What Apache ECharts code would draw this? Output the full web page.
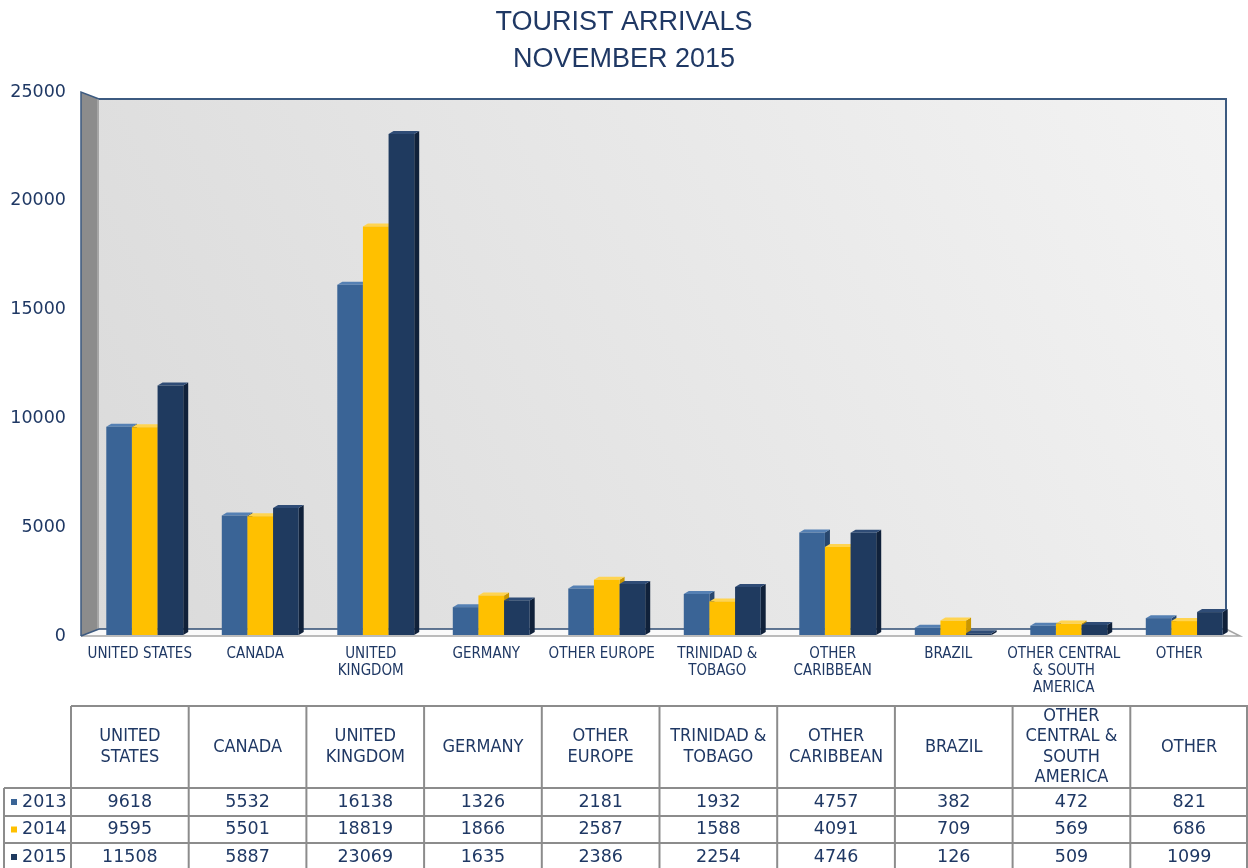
<!DOCTYPE html>
<html>
<head>
<meta charset="utf-8">
<script src="https://cdn.jsdelivr.net/npm/echarts@6/dist/echarts.min.js"></script>
<style>
  html, body { margin: 0; padding: 0; background: #fff; }
  #main { width: 1248px; height: 868px; }
</style>
</head>
<body>
<div id="main"></div>
<script>
// categories / labels
var categories = ['UNITED STATES', 'CANADA', 'UNITED KINGDOM', 'GERMANY', 'OTHER EUROPE',
  'TRINIDAD & TOBAGO', 'OTHER CARIBBEAN', 'BRAZIL', 'OTHER CENTRAL & SOUTH AMERICA', 'OTHER'];
var axisLabels = ['UNITED STATES', 'CANADA', 'UNITED\nKINGDOM', 'GERMANY', 'OTHER EUROPE',
  'TRINIDAD &\nTOBAGO', 'OTHER\nCARIBBEAN', 'BRAZIL', 'OTHER CENTRAL\n& SOUTH\nAMERICA', 'OTHER'];
var tableHeads = ['UNITED\nSTATES', 'CANADA', 'UNITED\nKINGDOM', 'GERMANY', 'OTHER\nEUROPE',
  'TRINIDAD &\nTOBAGO', 'OTHER\nCARIBBEAN', 'BRAZIL', 'OTHER\nCENTRAL &\nSOUTH\nAMERICA', 'OTHER'];
var years = ['2013', '2014', '2015'];

// series values
var arrivals2013 = [9618, 5532, 16138, 1326, 2181, 1932, 4757, 382, 472, 821];
var arrivals2014 = [9595, 5501, 18819, 1866, 2587, 1588, 4091, 709, 569, 686];
var arrivals2015 = [11508, 5887, 23069, 1635, 2386, 2254, 4746, 126, 509, 1099];

// y axis ticks
var yMin = 0, yMax = 25000, yStep = 5000;

var navy = '#1f3864';
var faceColors = [
  { front: '#3a6496', side: '#28476e', top: '#5580b3' },
  { front: '#ffc000', side: '#c99600', top: '#ffd451' },
  { front: '#1f3a5f', side: '#10213a', top: '#2f4c76' }
];

// layout of the plot (front plane)
var L = 82, T = 92, B = 636, R = 1237;
var DX = 17, DY = 7;
var narrow = '"Liberation Sans Narrow", "Arial Narrow", "DejaVu Sans Condensed", sans-serif';

var chart = echarts.init(document.getElementById('main'));

function renderBar(params, api) {
  var s = params.seriesIndex;
  var cat = api.value(0);
  var top = api.coord([cat, api.value(1)]);
  var base = api.coord([cat, 0]);
  var band = api.size([1, 0])[0];
  var bw = band * 0.222;
  var x = top[0] + 5 + (s - 1.5) * bw;
  var y = top[1], y0 = base[1] - 1;
  var dx = 5, dy = 3;
  var c = faceColors[s];
  return {
    type: 'group',
    children: [
      { type: 'polygon', shape: { points: [[x + bw, y], [x + bw + dx, y - dy], [x + bw + dx, y0 - dy], [x + bw, y0]] },
        style: { fill: c.side } },
      { type: 'polygon', shape: { points: [[x, y], [x + dx, y - dy], [x + bw + dx, y - dy], [x + bw, y]] },
        style: { fill: c.top } },
      { type: 'rect', shape: { x: x, y: y, width: bw, height: y0 - y }, style: { fill: c.front } }
    ]
  };
}

function makeSeries(name, values) {
  return {
    name: name,
    type: 'custom',
    renderItem: renderBar,
    encode: { x: 0, y: 1 },
    data: values.map(function (v, i) { return [i, v]; })
  };
}

// walls and floor (decoration behind the bars)
var walls = [
  { type: 'rect', z: -10, shape: { x: L + DX, y: T + DY, width: 1226 - L - DX, height: B - T - 2 * DY },
    style: { fill: new echarts.graphic.LinearGradient(0, 1, 1, 0, [
      { offset: 0, color: '#dadada' }, { offset: 1, color: '#f3f3f3' }]) } },
  { type: 'polyline', z: -9, shape: { points: [[L + DX, T + DY], [1226, T + DY], [1226, B - DY]] },
    style: { stroke: '#3c5a80', lineWidth: 2, fill: null } },
  { type: 'polygon', z: -9, shape: { points: [[L - 1, B], [L + DX, B - DY], [1226, B - DY], [1240, B]] },
    style: { fill: '#fafafa' } },
  { type: 'line', z: -8, shape: { x1: L + DX, y1: B - DY, x2: 1226, y2: B - DY }, style: { stroke: '#2f4d73', lineWidth: 1.5 } },
  { type: 'polyline', z: -8, shape: { points: [[L - 1, B], [1240, B], [1226, B - DY]] },
    style: { stroke: '#a6a6a6', lineWidth: 1.5, fill: null } },
  { type: 'polygon', z: -8, shape: { points: [[L - 1, T], [L + DX, T + DY], [L + DX, B - DY], [L - 1, B]] },
    style: { fill: '#8c8c8c' } },
  { type: 'line', z: -7, shape: { x1: L + DX - 1, y1: T + DY, x2: L + DX - 1, y2: B - DY }, style: { stroke: '#bfbfbf', lineWidth: 1 } },
  { type: 'polyline', z: -7, shape: { points: [[L - 1, B], [L - 1, T], [L + DX, T + DY]] },
    style: { stroke: '#3c5a80', lineWidth: 1.5, fill: null } },
  { type: 'line', z: -7, shape: { x1: L - 1, y1: B, x2: L + DX, y2: B - DY }, style: { stroke: '#3c5a80', lineWidth: 1.5 } }
];

// data table under the chart
var tblLeft = 4, tblKey = 71, tblRight = 1248;
var colW = (tblRight - tblKey) / categories.length;
var rowY = [706, 788, 816, 843, 871];
var gridStroke = { stroke: '#8c8c8c', lineWidth: 2 };
var numFont = '17.5px "DejaVu Sans"';
var table = [];
table.push({ type: 'line', shape: { x1: tblKey, y1: rowY[0], x2: tblRight, y2: rowY[0] }, style: gridStroke });
for (var r = 1; r < 4; r++) {
  table.push({ type: 'line', shape: { x1: tblLeft, y1: rowY[r], x2: tblRight, y2: rowY[r] }, style: gridStroke });
}
table.push({ type: 'line', shape: { x1: tblLeft, y1: rowY[1], x2: tblLeft, y2: 868 }, style: gridStroke });
for (var c = 0; c <= categories.length; c++) {
  var cx = Math.min(tblKey + c * colW, tblRight - 1);
  table.push({ type: 'line', shape: { x1: cx, y1: rowY[0], x2: cx, y2: 868 }, style: gridStroke });
}
tableHeads.forEach(function (h, i) {
  table.push({ type: 'text', x: tblKey + (i + 0.5) * colW, y: (rowY[0] + rowY[1]) / 2,
    style: { text: h, fill: navy, font: '18px ' + narrow, lineHeight: 20.5, align: 'center', verticalAlign: 'middle' } });
});
var rows = [arrivals2013, arrivals2014, arrivals2015];
rows.forEach(function (vals, r) {
  var cy = (rowY[r + 1] + rowY[r + 2]) / 2;
  table.push({ type: 'rect', shape: { x: 11, y: cy - 3, width: 6, height: 6 }, style: { fill: faceColors[r].front } });
  table.push({ type: 'text', x: 22, y: cy, style: { text: years[r], fill: navy, font: numFont, verticalAlign: 'middle' } });
  vals.forEach(function (v, i) {
    table.push({ type: 'text', x: tblKey + (i + 0.5) * colW, y: cy,
      style: { text: String(v), fill: navy, font: numFont, align: 'center', verticalAlign: 'middle' } });
  });
});

chart.setOption({
  animation: false,
  title: {
    text: 'TOURIST ARRIVALS\nNOVEMBER 2015',
    left: 'center', top: -1,
    textStyle: { color: navy, fontSize: 27, fontWeight: 'normal', fontFamily: 'Liberation Sans', lineHeight: 37 }
  },
  grid: { left: L, right: 1248 - R, top: T, bottom: 868 - B, containLabel: false },
  xAxis: {
    type: 'category',
    data: categories,
    axisLine: { show: false },
    axisTick: { show: false },
    axisLabel: {
      interval: 0, margin: 10, color: navy, fontSize: 15, lineHeight: 17, fontFamily: narrow,
      formatter: function (v, i) { return axisLabels[i]; }
    }
  },
  yAxis: {
    type: 'value',
    min: yMin, max: yMax, interval: yStep,
    axisLine: { show: false },
    axisTick: { show: false },
    splitLine: { show: false },
    axisLabel: { margin: 16, color: navy, fontSize: 17.5, fontFamily: 'DejaVu Sans',
      formatter: function (v) { return String(v); } }
  },
  graphic: walls.concat(table),
  series: [
    makeSeries(years[0], arrivals2013),
    makeSeries(years[1], arrivals2014),
    makeSeries(years[2], arrivals2015)
  ]
});
</script>
</body>
</html>
